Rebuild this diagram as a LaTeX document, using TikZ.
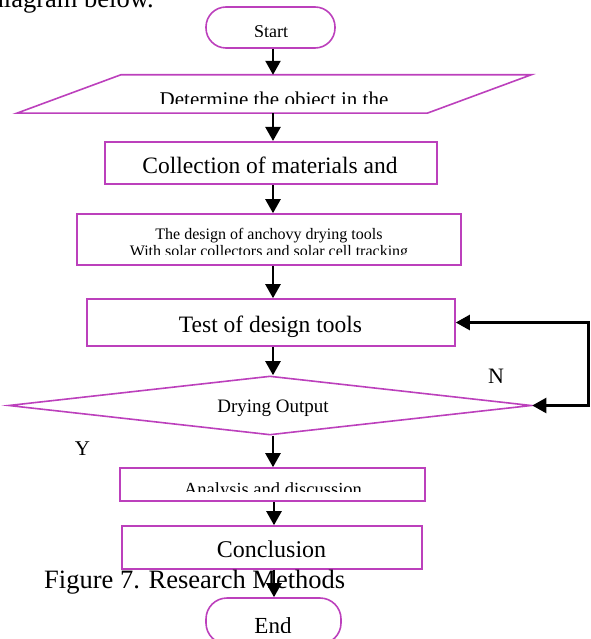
\documentclass[tikz,border=0pt]{standalone}
\usepackage{fontspec}
\setmainfont{Liberation Serif}
\usetikzlibrary{arrows.meta,shapes.geometric}
\definecolor{boxc}{RGB}{188,64,188}
\begin{document}
\begin{tikzpicture}[x=1pt,y=-1pt,
  box/.style={draw=boxc,line width=1.6pt,inner sep=0pt},
  boxline/.style={draw=boxc,line width=1.6pt,line join=miter},
  arr/.style={line width=2.4pt,-{Triangle[width=15pt,length=14pt]}},
  txt/.style={inner sep=0pt,anchor=base}
]
\useasboundingbox (0,0) rectangle (590,639);
% top running text, cut by the page edge
\begin{scope}
\clip (0,0) rectangle (590,639);
\node[txt,anchor=base east] (intro) at (154,7.5) {\fontsize{26.5}{30}\selectfont diagram below.};
\end{scope}
% shapes
\node[box,rectangle,rounded corners=20pt,minimum width=129pt,minimum height=41pt] (start) at (270.5,27.5) {};
\node[rectangle,inner sep=0pt,minimum width=410pt,minimum height=38pt] (det) at (274,94) {};
\draw[boxline] ([xshift=52pt]det.north west) -- ([xshift=52pt]det.north east)
  -- ([xshift=-52pt]det.south east) -- ([xshift=-52pt]det.south west) -- cycle;
\node[box,rectangle,minimum width=332pt,minimum height=42.5pt] (coll) at (271,163) {};
\node[box,rectangle,minimum width=384pt,minimum height=51pt] (des) at (269,239.5) {};
\node[box,rectangle,minimum width=368pt,minimum height=47pt] (test) at (271,322.5) {};
\node[box,diamond,minimum width=523pt,minimum height=59pt] (dry) at (270,405.5) {};
\node[box,rectangle,minimum width=305pt,minimum height=33pt] (ana) at (272.5,484.5) {};
\node[box,rectangle,minimum width=300pt,minimum height=43pt] (conc) at (272,547.5) {};
\node[box,rectangle,rounded corners=21pt,minimum width=135pt,minimum height=46pt] (end) at (273.5,621) {};
% texts (several are cut off at the bottom, as printed)
\begin{scope}
\clip (0,0) rectangle (590,36.5);
\node[txt] (tstart) at (271,38) {\fontsize{18}{20}\selectfont Start};
\end{scope}
\begin{scope}
\clip (0,0) rectangle (590,104);
\node[txt] (tdet) at (274,107) {\fontsize{21}{24}\selectfont Determine the object in the};
\end{scope}
\node[txt] (tcoll) at (270,173) {\fontsize{23.5}{27}\selectfont Collection of materials and};
\node[txt] (tdes1) at (269,239) {\fontsize{16}{18}\selectfont The design of anchovy drying tools};
\begin{scope}
\clip (0,0) rectangle (590,254.5);
\node[txt] (tdes2) at (269,256.5) {\fontsize{16}{18}\selectfont With solar collectors and solar cell tracking};
\end{scope}
\node[txt] (ttest) at (270.5,332) {\fontsize{23.5}{27}\selectfont Test of design tools};
\node[txt] (tdry) at (273,412) {\fontsize{19}{22}\selectfont Drying Output};
\node[txt] (tn) at (496,383) {\fontsize{22}{25}\selectfont N};
\node[txt] (ty) at (82.5,455) {\fontsize{21}{24}\selectfont Y};
\begin{scope}
\clip (0,0) rectangle (590,491);
\node[txt] (tana) at (273,495) {\fontsize{18.5}{21}\selectfont Analysis and discussion};
\end{scope}
\node[txt] (tconc) at (271.5,557) {\fontsize{24}{27}\selectfont Conclusion};
\begin{scope}
\clip (0,0) rectangle (590,632);
\node[txt] (tend) at (273,633.5) {\fontsize{23}{26}\selectfont End};
\end{scope}
\node[txt,anchor=base west] (cap) at (44,588) {\fontsize{26.5}{30}\selectfont Figure 7. Research Methods};
% connectors
\coordinate (ax) at (273,0);
\coordinate (bx) at (274,0);
\coordinate (fb) at (588.5,0);
\draw[arr] (start.south -| ax) -- (det.north -| ax);
\draw[arr] (det.south -| ax) -- (coll.north -| ax);
\draw[arr] (coll.south -| ax) -- (des.north -| ax);
\draw[arr] (des.south -| ax) -- (test.north -| ax);
\draw[arr] (test.south -| ax) -- (dry.north -| ax);
\draw[arr] (dry.south -| ax) -- (ana.north -| ax);
\draw[arr] (ana.south -| bx) -- (conc.north -| bx);
\draw[arr] (conc.south -| bx) -- (end.north -| bx);
\draw[line width=2.4pt,line cap=rect] (test.east -| fb) -- (dry.east -| fb);
\draw[arr] (test.east -| fb) -- (test.east);
\draw[arr] (dry.east -| fb) -- (dry.east);
\end{tikzpicture}
\end{document}
